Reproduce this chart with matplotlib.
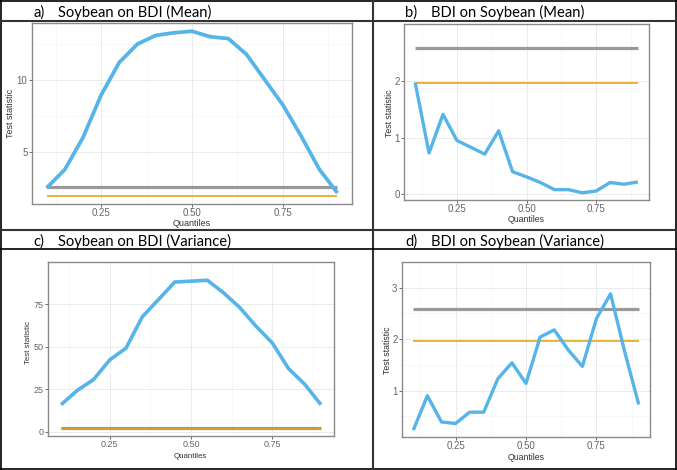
import numpy as np
import matplotlib.pyplot as plt
from matplotlib.lines import Line2D

# quantile grid and test statistics
quantiles = [0.10, 0.15, 0.20, 0.25, 0.30, 0.35, 0.40, 0.45, 0.50,
             0.55, 0.60, 0.65, 0.70, 0.75, 0.80, 0.85, 0.90]
soy_bdi_mean = [2.5, 3.77, 5.98, 8.93, 11.2, 12.47, 13.07, 13.25, 13.36,
                12.98, 12.85, 11.75, 10.0, 8.25, 6.1, 3.8, 2.15]
bdi_soy_mean = [1.97, 0.73, 1.41, 0.95, 0.83, 0.71, 1.12, 0.40, 0.31,
                0.21, 0.085, 0.085, 0.03, 0.06, 0.21, 0.18, 0.22]
soy_bdi_var = [16.0, 24.4, 30.8, 42.4, 49.3, 67.7, 77.9, 88.2, 88.7,
               89.3, 81.9, 73.2, 62.2, 52.4, 37.3, 28.0, 16.0]
bdi_soy_var = [0.23, 0.90, 0.39, 0.36, 0.58, 0.58, 1.23, 1.54, 1.14,
               2.04, 2.18, 1.79, 1.47, 2.40, 2.88, 1.76, 0.73]
crit_1 = 2.58   # grey line
crit_5 = 1.96   # orange line

x_ticks = [0.25, 0.50, 0.75]
x_ticklabels = ["0.25", "0.50", "0.75"]

W, H = 677, 470
fig = plt.figure(figsize=(W / 100, H / 100), dpi=100)
fig.patch.set_facecolor("white")

BLUE = "#56B4E9"
ORANGE = "#E69F00"
GREY = "#999999"


def fx(x):
    return x / W


def fy(y):
    return 1 - y / H


def px_axes(l, t, r, b):
    return fig.add_axes([l / W, 1 - b / H, (r - l) / W, (b - t) / H])


def panel(rect, y, yt, ymin, font, lw, tsize):
    ax = px_axes(*rect)
    ax.plot(quantiles, y, color=BLUE, lw=lw, solid_capstyle="butt", zorder=3)
    ax.hlines(crit_1, 0.1, 0.9, color=GREY, lw=2.3, zorder=2)
    ax.hlines(crit_5, 0.1, 0.9, color=ORANGE, lw=1.1, zorder=2)
    ax.margins(x=0.05, y=0.05)
    ax.set_xticks(x_ticks)
    ax.set_xticklabels(x_ticklabels)
    ax.set_xticks([0.125, 0.375, 0.625, 0.875], minor=True)
    ax.set_yticks(yt)
    ax.set_yticklabels([str(v) for v in yt])
    step = yt[1] - yt[0]
    ax.set_yticks([ymin + step / 2 + i * step for i in range(len(yt) + 1)], minor=True)
    ax.grid(True, which="major", color="#ebebeb", lw=0.7)
    ax.grid(True, which="minor", color="#f4f4f4", lw=0.5)
    ax.set_axisbelow(True)
    for s in ax.spines.values():
        s.set_color("#8a8a8a")
        s.set_linewidth(1.0)
    ax.tick_params(which="major", length=2, width=0.6, color="#555555",
                   labelsize=tsize, labelcolor="#666666", pad=1.2)
    ax.tick_params(which="minor", length=0)
    for lab in ax.get_xticklabels() + ax.get_yticklabels():
        lab.set_family(font)
    return ax


wide = ["Liberation Sans", "DejaVu Sans"]
narrow = ["Liberation Sans Narrow", "Liberation Sans", "DejaVu Sans"]

ax_a = panel((32, 23, 352, 204), soy_bdi_mean, [5, 10], 0, wide, 2.7, 7)
ax_b = panel((404, 24, 649, 200), bdi_soy_mean, [0, 1, 2], -0.5, narrow, 2.4, 7)
ax_c = panel((48, 262, 334, 436), soy_bdi_var, [0, 25, 50, 75], -12.5, wide, 2.6, 6.5)
ax_d = panel((402, 262, 650, 437), bdi_soy_var, [1, 2, 3], 0, narrow, 2.4, 7)

# axis titles: (xlabel centre, ylabel centre, font, size)
labs = [((192, 224), (11, 113), wide, 6.5),
        ((526, 220), (389, 113), narrow, 6.3),
        ((190, 456), (28.5, 342), wide, 5.7),
        ((526, 457), (388, 350), narrow, 6.3)]
for (xl, yl, font, size) in labs:
    fig.text(fx(xl[0]), fy(xl[1]), "Quantiles", ha="center", va="center",
             fontsize=size, color="#333333", family=font)
    fig.text(fx(yl[0]), fy(yl[1]), "Test statistic", ha="center", va="center",
             rotation=90, fontsize=size, color="#333333", family=font)

# panel headings
heads = [(33, 58, 16.5, "a)", "Soybean on BDI (Mean)"),
         (405, 431, 16.5, "b)", "BDI on Soybean (Mean)"),
         (33, 58, 246, "c)", "Soybean on BDI (Variance)"),
         (405, 431, 246, "d)", "BDI on Soybean (Variance)")]
for x1, x2, yb, tag, txt in heads:
    fig.text(fx(x1), fy(yb), tag, ha="left", va="baseline", fontsize=10.6,
             family="Lato", color="black")
    fig.text(fx(x2), fy(yb), txt, ha="left", va="baseline", fontsize=10.6,
             family="Lato", color="black")


# table borders
def hline(y, x0, x1, c, lw):
    fig.add_artist(Line2D([fx(x0), fx(x1)], [fy(y), fy(y)], color=c, lw=lw))


def vline(x, y0, y1, c, lw):
    fig.add_artist(Line2D([fx(x), fx(x)], [fy(y0), fy(y1)], color=c, lw=lw))


hline(0.6, 0, W, "black", 1.2)
hline(469.4, 0, W, "black", 1.2)
vline(0.6, 0, H, "black", 1.2)
vline(676.4, 0, H, "black", 1.2)
vline(373, 0, H, "#333333", 1.5)
hline(20.7, 0, W, "#333333", 1.5)
hline(230, 0, W, "#333333", 1.5)
hline(249.3, 0, W, "black", 1.2)

fig.savefig("out.png", dpi=100)
